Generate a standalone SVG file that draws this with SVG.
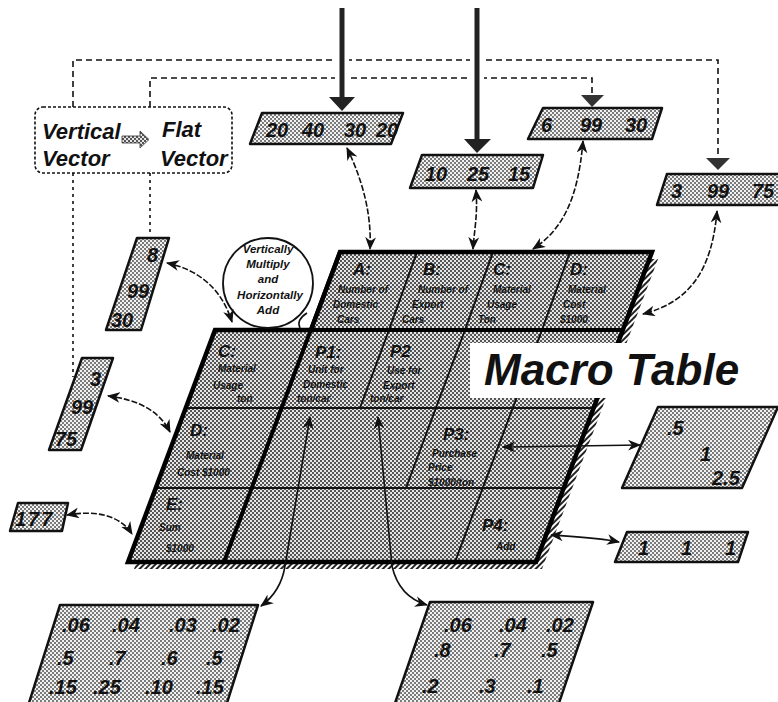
<svg xmlns="http://www.w3.org/2000/svg" width="778" height="702" viewBox="0 0 778 702">
<defs>
<pattern id="ht" width="4" height="4" patternUnits="userSpaceOnUse"><rect width="4" height="4" fill="#e6e6e6"/><rect width="2" height="2" fill="#555"/><rect x="2" y="2" width="2" height="2" fill="#555"/></pattern>
<pattern id="hb" width="4" height="4" patternUnits="userSpaceOnUse"><rect width="4" height="4" fill="#f2f2f2"/><rect width="2" height="2" fill="#7a7a7a"/><rect x="2" y="2" width="2" height="2" fill="#7a7a7a"/></pattern>
<pattern id="hatch" width="4" height="4" patternUnits="userSpaceOnUse" patternTransform="rotate(45)"><rect width="4" height="4" fill="#fff"/><rect width="2" height="4" fill="#222"/></pattern>
<marker id="ah" viewBox="0 0 12 10" refX="11" refY="5" markerWidth="13" markerHeight="11" markerUnits="userSpaceOnUse" orient="auto-start-reverse"><path d="M0,0 L12,5 L0,10 L3.5,5 z" fill="#111"/></marker>
</defs>
<style>
text{font-family:"Liberation Sans",Arial,sans-serif;font-weight:bold;font-style:italic;fill:#111}
.n{font-size:20px}
.lb{font-size:22px}
.h{font-size:17px}
.s{font-size:10px}
.b{font-size:11.5px}
.box{fill:url(#hb);stroke:#111;stroke-width:2.5;stroke-linejoin:round}
.dash{fill:none;stroke:#111;stroke-width:1.6;stroke-dasharray:6 4}
.vd{fill:none;stroke:#111;stroke-width:1.6;stroke-dasharray:3 4}
.con{fill:none;stroke:#111;stroke-width:1.6;stroke-dasharray:6 2;marker-start:url(#ah);marker-end:url(#ah)}
.sol{fill:none;stroke:#111;stroke-width:1.6;marker-start:url(#ah);marker-end:url(#ah)}
.thin{fill:none;stroke:#111;stroke-width:2}
.thick{fill:none;stroke:#000;stroke-width:4}
.tip{fill:#333}
</style>
<rect width="778" height="702" fill="#fff"/>

<g id="conversion-legend">
<rect x="35" y="107" width="197" height="66" rx="8" fill="none" stroke="#111" stroke-width="1.6" stroke-dasharray="3 2"/>
<text class="lb" x="42" y="139">Vertical</text>
<text class="lb" x="42" y="166">Vector</text>
<text class="lb" x="162" y="137">Flat</text>
<text class="lb" x="160" y="166">Vector</text>
<polygon points="122,136 140,136 140,131 149,139.5 140,148 140,143 122,143" fill="url(#ht)" stroke="#333" stroke-width="0.8"/>
</g>

<g id="shadow">
<polygon points="346,259 658,259 542,569 134,569 221,337 317,337" fill="url(#hatch)"/>
</g>

<g id="macro-table">
<polygon points="340,252 652,252 536,562 128,562 215,330 311,330" fill="url(#ht)"/>
<line class="thin" x1="417" y1="252" x2="389" y2="330"/>
<line class="thin" x1="493" y1="252" x2="465" y2="330"/>
<line class="thin" x1="570" y1="252" x2="542" y2="330"/>
<line class="thin" x1="389" y1="330" x2="360" y2="408"/>
<line class="thin" x1="465" y1="330" x2="406" y2="488"/>
<line class="thin" x1="542" y1="330" x2="455" y2="562"/>
<line class="thin" x1="186" y1="408" x2="594" y2="408"/>
<line class="thin" x1="156" y1="488" x2="564" y2="488" stroke-width="2.5"/>
<line class="thick" x1="215" y1="330" x2="623" y2="330"/>
<line class="thick" x1="340" y1="252" x2="224" y2="562"/>
<polygon points="340,252 652,252 536,562 128,562 215,330 311,330" fill="none" stroke="#000" stroke-width="4.5" stroke-linejoin="miter"/>

<g id="cell-A"><text class="h" x="353" y="275">A:</text><text class="s" x="338" y="293">Number of</text><text class="s" x="333" y="308">Domestic</text><text class="s" x="337" y="323">Cars</text></g>
<g id="cell-B"><text class="h" x="423" y="275">B:</text><text class="s" x="418" y="293">Number of</text><text class="s" x="412" y="308">Export</text><text class="s" x="402" y="323">Cars</text></g>
<g id="cell-C-top"><text class="h" x="493" y="275">C:</text><text class="s" x="493" y="293">Material</text><text class="s" x="487" y="308">Usage</text><text class="s" x="478" y="323">Ton</text></g>
<g id="cell-D-top"><text class="h" x="570" y="275">D:</text><text class="s" x="568" y="293">Material</text><text class="s" x="563" y="308">Cost</text><text class="s" x="560" y="323">$1000</text></g>
<g id="cell-C"><text class="h" x="218" y="357">C:</text><text class="s" x="218" y="372">Material</text><text class="s" x="213" y="389">Usage</text><text class="s" x="237" y="402">ton</text></g>
<g id="cell-P1"><text class="h" x="315" y="358">P1:</text><text class="s" x="308" y="373">Unit for</text><text class="s" x="303" y="388">Domestic</text><text class="s" x="297" y="402">ton/car</text></g>
<g id="cell-P2"><text class="h" x="390" y="357">P2</text><text class="s" x="387" y="374">Use for</text><text class="s" x="383" y="389">Export</text><text class="s" x="370" y="402">ton/car</text></g>
<g id="cell-D"><text class="h" x="190" y="436">D:</text><text class="s" x="186" y="459">Material</text><text class="s" x="177" y="476">Cost $1000</text></g>
<g id="cell-P3"><text class="h" x="443" y="440">P3:</text><text class="s" x="432" y="457">Purchase</text><text class="s" x="428" y="471">Price</text><text class="s" x="428" y="486">$1000/ton</text></g>
<g id="cell-E"><text class="h" x="166" y="510">E:</text><text class="s" x="159" y="531">Sum</text><text class="s" x="166" y="552">$1000</text></g>
<g id="cell-P4"><text class="h" x="482" y="531">P4:</text><text class="s" x="496" y="550">Add</text></g>
</g>

<g id="title">
<rect x="470" y="343" width="277" height="55" fill="#fff"/>
<text x="484" y="385" style="font-size:44px">Macro Table</text>
</g>

<g id="bubble">
<circle cx="268" cy="283" r="45" fill="#fff" stroke="#111" stroke-width="1.8"/>
<text class="b" x="268" y="253" text-anchor="middle">Vertically</text>
<text class="b" x="268" y="268" text-anchor="middle">Multiply</text>
<text class="b" x="268" y="283" text-anchor="middle">and</text>
<text class="b" x="270" y="299" text-anchor="middle">Horizontally</text>
<text class="b" x="268" y="314" text-anchor="middle">Add</text>
<path d="M307,313 Q296,320 300,328" fill="none" stroke="#111" stroke-width="1.6"/>
</g>

<g id="vec-A">
<polygon class="box" points="262,113 403,113 391,144 250,144"/>
<text class="n" x="266" y="137">20</text><text class="n" x="302" y="137">40</text><text class="n" x="344" y="137">30</text><text class="n" x="376" y="137">20</text>
</g>
<g id="vec-B">
<polygon class="box" points="422,155 543,155 533,188 410,188"/>
<text class="n" x="425" y="181">10</text><text class="n" x="467" y="181">25</text><text class="n" x="508" y="181">15</text>
</g>
<g id="vec-C">
<polygon class="box" points="543,108 662,108 652,139 528,139"/>
<text class="n" x="541" y="132">6</text><text class="n" x="580" y="132">99</text><text class="n" x="625" y="132">30</text>
</g>
<g id="vec-D">
<polygon class="box" points="667,174 792,174 782,205 657,205"/>
<text class="n" x="671" y="198">3</text><text class="n" x="707" y="198">99</text><text class="n" x="752" y="198">75</text>
</g>
<g id="vvec-C">
<polygon class="box" points="137,238 169,238 141,330 106,330"/>
<text class="n" x="147" y="262">8</text><text class="n" x="127" y="298">99</text><text class="n" x="111" y="327">30</text>
</g>
<g id="vvec-D">
<polygon class="box" points="82,358 113,358 81,450 49,450"/>
<text class="n" x="90" y="386">3</text><text class="n" x="71" y="414">99</text><text class="n" x="55" y="446">75</text>
</g>
<g id="sum-box">
<polygon class="box" points="18,503 68,503 62,531 10,531"/>
<text class="n" x="15" y="526" style="letter-spacing:2px">177</text>
</g>
<g id="price-box">
<polygon class="box" points="658,407 778,407 742,488 622,488"/>
<text class="n" x="667" y="435">.5</text><text class="n" x="700" y="461">1</text><text class="n" x="712" y="485">2.5</text>
</g>
<g id="add-box">
<polygon class="box" points="627,532 748,532 738,562 615,562"/>
<text class="n" x="638" y="555">1</text><text class="n" x="681" y="555">1</text><text class="n" x="725" y="555">1</text>
</g>
<g id="unit-matrix-domestic">
<polygon class="box" points="60,605 258,605 226,706 28,706"/>
<text class="n" x="62" y="632">.06</text><text class="n" x="112" y="632">.04</text><text class="n" x="169" y="632">.03</text><text class="n" x="212" y="632">.02</text>
<text class="n" x="57" y="665">.5</text><text class="n" x="109" y="665">.7</text><text class="n" x="161" y="665">.6</text><text class="n" x="206" y="665">.5</text>
<text class="n" x="49" y="694">.15</text><text class="n" x="93" y="694">.25</text><text class="n" x="145" y="694">.10</text><text class="n" x="196" y="694">.15</text>
</g>
<g id="unit-matrix-export">
<polygon class="box" points="430,602 593,602 558,706 394,706"/>
<text class="n" x="444" y="632">.06</text><text class="n" x="499" y="632">.04</text><text class="n" x="546" y="632">.02</text>
<text class="n" x="434" y="657">.8</text><text class="n" x="494" y="657">.7</text><text class="n" x="541" y="657">.5</text>
<text class="n" x="422" y="693">.2</text><text class="n" x="479" y="693">.3</text><text class="n" x="527" y="693">.1</text>
</g>

<g id="connectors">
<path class="dash" d="M73,107 V60 H718 V158"/>
<path class="dash" d="M150,107 V78 H592 V95"/>
<path class="vd" d="M73,173 V377"/>
<path class="vd" d="M150,173 V236"/>
<polygon class="tip" points="706,158 730,158 718,170"/>
<polygon class="tip" points="581,95 604,95 592,107"/>
<line x1="342" y1="6" x2="342" y2="98" stroke="#fff" stroke-width="14"/>
<line x1="477" y1="6" x2="477" y2="140" stroke="#fff" stroke-width="14"/>
<line x1="342" y1="8" x2="342" y2="98" stroke="#222" stroke-width="5"/>
<line x1="477" y1="8" x2="477" y2="140" stroke="#222" stroke-width="5"/>
<polygon points="329,97 355,97 342,111" fill="#222"/>
<polygon points="464,139 491,139 477,153" fill="#222"/>
<path class="con" d="M347,148 C360,175 372,210 370,249"/>
<path class="con" d="M476,190 C478,215 474,232 473,249"/>
<path class="con" d="M583,141 C578,200 562,230 533,249"/>
<path class="con" d="M717,211 C712,270 690,302 643,314"/>
<path class="con" d="M167,263 C200,270 222,290 232,322"/>
<path class="con" d="M108,396 C140,400 160,412 170,432"/>
<path class="con" d="M67,515 C95,510 120,515 132,534"/>
<path class="sol" d="M503,447 L640,445"/>
<path class="sol" d="M551,535 C580,537 600,538 619,542"/>
<path class="sol" d="M310,417 L285,566 C282,585 272,598 261,606"/>
<path class="sol" d="M378,417 L392,566 C397,588 410,600 427,605"/>
</g>
</svg>
